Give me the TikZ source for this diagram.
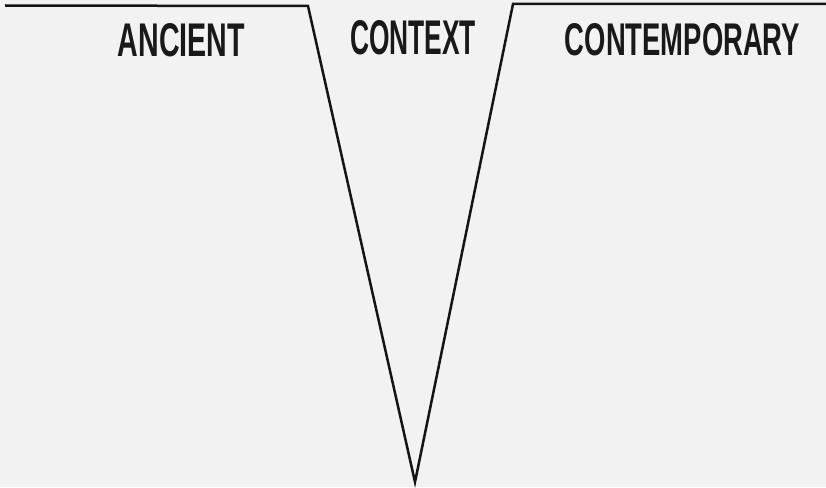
\documentclass[tikz,border=0pt]{standalone}
\usepackage{fontspec}
\setmainfont{Liberation Sans}
\usepackage{graphicx}
\begin{document}
\begin{tikzpicture}[x=1pt,y=-1pt,
  lbl/.style={inner sep=0pt, text=black!90},
  vline/.style={line width=2.5pt, black!92, line join=miter}]
\fill[gray!10] (0,0) rectangle (826,487);
\useasboundingbox (0,0) rectangle (826,487);
\coordinate (a) at (5,5.5);
\coordinate (b) at (308,6);
\coordinate (c) at (415,482);
\coordinate (d) at (513,4);
\coordinate (e) at (827,4);
\draw[vline] (a) -- (b) -- (c) -- (d) -- (e);
\node[lbl] (anc) at (181.5,40.5) {\resizebox{127pt}{33pt}{\bfseries ANCIENT}};
\node[lbl] (ctx) at (413,38) {\resizebox{126pt}{34pt}{\bfseries CONTEXT}};
\node[lbl] (con) at (682.5,40) {\resizebox{235pt}{32pt}{\bfseries CONTEMPORARY}};
\end{tikzpicture}
\end{document}
